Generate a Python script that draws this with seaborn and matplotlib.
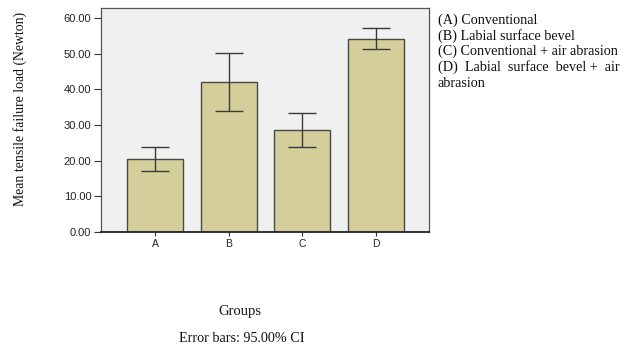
import matplotlib
matplotlib.use("Agg")

import matplotlib.pyplot as plt
import numpy as np
import pandas as pd
import seaborn as sns

# ── Data ──
groups = ["A", "B", "C", "D"]
means = [20.4, 42.0, 28.5, 54.2]
ci_low = [17.1, 34.0, 23.7, 51.3]
ci_high = [23.8, 50.2, 33.3, 57.2]
yticks = [0, 10, 20, 30, 40, 50, 60]
legend_lines = [
    "(A) Conventional",
    "(B) Labial surface bevel",
    "(C) Conventional + air abrasion",
    "(D)  Labial  surface  bevel +  air",
    "abrasion",
]

sns.set_theme(style="white")
serif = ["Liberation Serif", "DejaVu Serif"]
sans = ["Liberation Sans", "DejaVu Sans"]

df = pd.DataFrame({"group": groups, "mean": means})

fig = plt.figure(figsize=(6.33, 3.51), dpi=100)
ax = fig.add_axes([101 / 633, 119 / 351, 328 / 633, 224 / 351])
ax.set_facecolor("#F0F0F0")

sns.barplot(data=df, x="group", y="mean", color="#D4CF9A", width=0.76,
            edgecolor="#4A4A42", linewidth=1.0, saturation=1, errorbar=None, ax=ax)

# 95% CI error bars
x = np.arange(len(groups))
lower = np.array(means) - np.array(ci_low)
upper = np.array(ci_high) - np.array(means)
ax.errorbar(x, means, yerr=[lower, upper], fmt="none", ecolor="#3A3A3A",
            elinewidth=1.0, capsize=10, capthick=1.0)

ax.set_xlim(-0.733, 3.72)
ax.set_ylim(0, 62.8)
ax.set_yticks(yticks)
ax.set_yticklabels([f"{v:.2f}" for v in yticks], fontsize=8, family=sans, color="#222222")
ax.set_xticks(x)
ax.set_xticklabels(groups, fontsize=7.5, family=sans, color="#222222")
ax.tick_params(axis="y", which="major", length=5, width=0.8, color="#333333", pad=2, left=True)
ax.tick_params(axis="x", which="major", length=3, width=0.8, color="#333333", pad=2, bottom=True)
ax.set_xlabel("")
ax.set_ylabel("")

for side in ["top", "right", "left"]:
    ax.spines[side].set_color("#555555")
    ax.spines[side].set_linewidth(0.9)
ax.spines["bottom"].set_color("#222222")
ax.spines["bottom"].set_linewidth(1.3)

fig.text(20 / 633, 1 - 109 / 351, "Mean tensile failure load (Newton)", rotation=90,
         ha="center", va="center", fontsize=9.9, family=serif, color="#111111")
fig.text(240 / 633, 1 - 311 / 351, "Groups", ha="center", va="center",
         fontsize=10.5, family=serif, color="#111111")
fig.text(242 / 633, 1 - 339 / 351, "Error bars: 95.00% CI", ha="center", va="center",
         fontsize=10.2, family=serif, color="#111111")

for i, line in enumerate(legend_lines):
    fig.text(438 / 633, 1 - (20 + i * 15.8) / 351, line, ha="left", va="center",
             fontsize=10.2, family=serif, color="#111111")

fig.savefig("out.png", dpi=100)
